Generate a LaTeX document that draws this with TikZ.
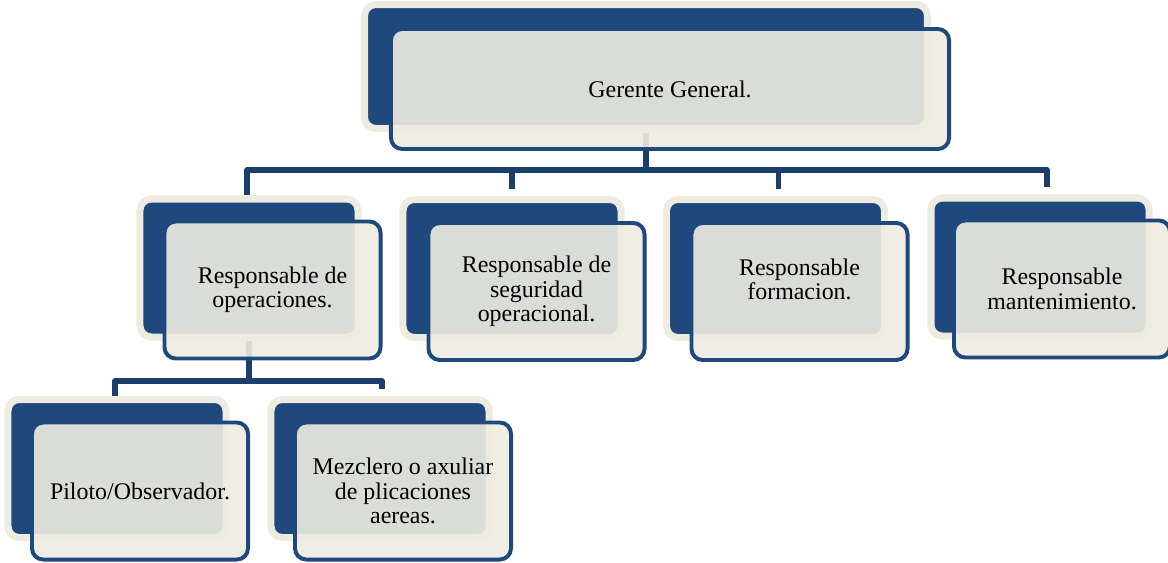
\documentclass[tikz,border=0pt]{standalone}
\usepackage{fontspec}
\setmainfont{Liberation Serif}
\newfontfamily\boxfont{Liberation Serif}
\usetikzlibrary{calc,positioning}

\definecolor{navy}{HTML}{1F497D}
\definecolor{navyline}{HTML}{1C3E6C}
\definecolor{cream}{HTML}{EEECE1}

\begin{document}
\begin{tikzpicture}[x=0.025cm,y=-0.025cm,
	backbox/.style={rectangle,rounded corners=8pt,fill=navy,draw=cream,line width=5pt,
		minimum width=5.45cm,minimum height=3.45cm,inner sep=0pt},
	frontbox/.style={rectangle,rounded corners=8pt,fill=cream,fill opacity=0.9,text opacity=1,
		draw=navy,line width=2.8pt,minimum width=5.4cm,minimum height=3.425cm,
		align=center,text=black,font=\boxfont\fontsize{17}{17.4}\selectfont},
	bus/.style={draw=navyline,line width=3.6pt,line join=round}]

			\useasboundingbox (0,0) rectangle (1168,562);

			% back boxes
			\node[backbox,minimum width=14.07cm,minimum height=3.1cm](gg-b) at(646,66.5){};
			\node[backbox](ops-b) at(249,268){};
			\node[backbox](seg-b) at(512,268.5){};
			\node[backbox](for-b) at(775.5,268.5){};
			\node[backbox](man-b) at(1040,267){};
			\node[backbox](pil-b) at(117,468.5){};
			\node[backbox](mez-b) at(380,468.5){};

			% connectors
			\coordinate (bus-l) at(247,170);
			\coordinate (bus-r) at(1047,170);
			\coordinate (sub-l) at(115,381);
			\coordinate (sub-r) at(382,381);
				\draw[bus,shorten <=1pt](gg-b.south) to (gg-b.south |- bus-l);
				\draw[bus,shorten >=5pt](ops-b.north -| bus-l) to (bus-l) to (bus-r) to (man-b.north -| bus-r);
				\draw[bus,shorten >=5pt](seg-b.north |- bus-l) to (seg-b.north);
				\draw[bus,shorten >=5pt]($(for-b.north |- bus-l)+(3,0)$) to ($(for-b.north)+(3,0)$);
				\draw[bus](ops-b.south) to (ops-b.south |- sub-l);
				\draw[bus,shorten >=5pt](pil-b.north -| sub-l) to (sub-l) to (sub-r) to (mez-b.north -| sub-r);

			% front boxes
			\node[frontbox,minimum width=13.95cm,minimum height=3cm](gg) at(670,89){Gerente General.};
			\node[frontbox](ops) at(272.5,290){Responsable de\\operaciones.};
			\node[frontbox](seg) at(536.5,291.5){Responsable de\\seguridad\\operacional.};
			\node[frontbox](for) at(799.5,291.5){Responsable\\formacion.\\\mbox{}};
			\node[frontbox](man) at(1062,289){Responsable\\mantenimiento.};
			\node[frontbox](pil) at(140,491){Piloto/Observador.};
			\node[frontbox](mez) at(403,491){Mezclero o axuliar\\de plicaciones\\aereas.};

		\end{tikzpicture}
\end{document}
